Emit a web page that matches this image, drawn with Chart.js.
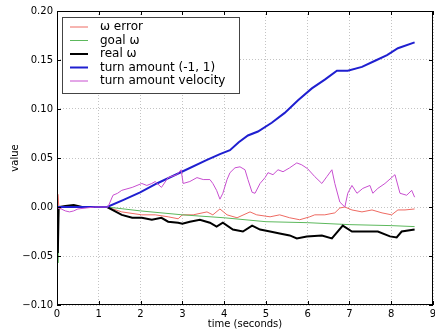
<!DOCTYPE html>
<html>
<head>
<meta charset="utf-8">
<script src="https://cdn.jsdelivr.net/npm/chart.js@4"></script>
<style>
  body { margin: 0; background: #fff; }
  #chart { display: block; }
</style>
</head>
<body>
<canvas id="chart" width="435" height="335"></canvas>
<script>
// values (time in seconds)
const errorTime = [0, 0.02, 0.05, 0.2, 0.5, 1.0, 1.2, 1.55, 2.03, 2.35, 2.66, 2.9, 3.0, 3.26, 3.59, 3.73, 3.9, 4.07, 4.31, 4.62, 4.78, 5.1, 5.33, 5.57, 5.81, 6.05, 6.17, 6.41, 6.65, 6.77, 6.89, 7.06, 7.3, 7.54, 7.78, 8.01, 8.16, 8.33, 8.56]
const errorVals = [0, 0.013, -0.002, 0.001, 0, 0, 0, -0.005, -0.008, -0.008, -0.010, -0.012, -0.008, -0.008, -0.005, -0.008, -0.002, -0.008, -0.011, -0.005, -0.008, -0.010, -0.008, -0.011, -0.013, -0.010, -0.008, -0.008, -0.006, -0.001, 0.0, -0.003, -0.005, -0.003, -0.006, -0.008, -0.003, -0.003, -0.002]

const goalTime = [0, 0.02, 0.04, 1.2, 2.0, 3.0, 4.0, 5.0, 6.0, 7.0, 8.0, 8.56]
const goalVals = [0, -0.057, 0, 0, -0.004, -0.008, -0.011, -0.015, -0.016, -0.018, -0.019, -0.020]

const realTime = [0, 0.02, 0.04, 0.2, 0.4, 0.6, 1.2, 1.55, 1.8, 2.03, 2.27, 2.5, 2.66, 2.9, 3.0, 3.18, 3.42, 3.66, 3.82, 3.97, 4.21, 4.45, 4.67, 4.86, 5.1, 5.33, 5.57, 5.74, 5.98, 6.34, 6.58, 6.84, 7.06, 7.37, 7.68, 7.97, 8.13, 8.25, 8.56]
const realVals = [0, -0.047, 0, 0.001, 0.002, 0, 0, -0.008, -0.011, -0.011, -0.013, -0.011, -0.015, -0.016, -0.017, -0.015, -0.013, -0.016, -0.020, -0.016, -0.023, -0.025, -0.019, -0.023, -0.025, -0.027, -0.029, -0.032, -0.030, -0.029, -0.032, -0.019, -0.025, -0.025, -0.025, -0.030, -0.031, -0.025, -0.023]

const turnTime = [0, 0.5, 1.0, 1.2, 1.58, 1.99, 2.39, 2.99, 3.59, 3.9, 4.14, 4.35, 4.57, 4.81, 5.14, 5.45, 5.77, 6.1, 6.41, 6.7, 6.96, 7.3, 7.6, 7.9, 8.16, 8.56]
const turnVals = [0, 0, 0, 0, 0.007, 0.015, 0.024, 0.036, 0.048, 0.054, 0.058, 0.066, 0.073, 0.077, 0.086, 0.096, 0.109, 0.121, 0.130, 0.139, 0.139, 0.143, 0.149, 0.155, 0.162, 0.168]

const velTime = [0, 0.1, 0.2, 0.3, 0.4, 0.5, 0.7, 0.9, 1.1, 1.22, 1.34, 1.45, 1.55, 1.8, 2.03, 2.15, 2.27, 2.35, 2.5, 2.66, 2.87, 2.97, 3.02, 3.18, 3.35, 3.5, 3.66, 3.73, 3.82, 3.9, 3.97, 4.07, 4.14, 4.26, 4.38, 4.5, 4.57, 4.67, 4.74, 4.86, 4.98, 5.05, 5.17, 5.29, 5.41, 5.57, 5.74, 5.86, 6.0, 6.17, 6.34, 6.46, 6.58, 6.65, 6.77, 6.89, 6.96, 7.06, 7.18, 7.32, 7.49, 7.56, 7.68, 7.85, 8.09, 8.21, 8.37, 8.49, 8.56]
const velVals = [-0.001, -0.002, -0.004, -0.005, -0.004, -0.002, -0.001, 0, 0, 0, 0.012, 0.014, 0.017, 0.020, 0.024, 0.022, 0.024, 0.026, 0.020, 0.030, 0.033, 0.038, 0.024, 0.026, 0.030, 0.028, 0.028, 0.024, 0.017, 0.008, 0.014, 0.028, 0.035, 0.040, 0.041, 0.038, 0.028, 0.015, 0.014, 0.024, 0.030, 0.035, 0.033, 0.038, 0.036, 0.040, 0.045, 0.043, 0.039, 0.031, 0.024, 0.031, 0.038, 0.024, 0.005, 0.0, 0.014, 0.022, 0.014, 0.019, 0.022, 0.014, 0.019, 0.024, 0.033, 0.014, 0.012, 0.017, 0.010]

const labels = ['\u03c9 error', 'goal \u03c9', 'real \u03c9', 'turn amount (-1, 1)', 'turn amount velocity']
const colors = ['#ee6a62', '#5cb85c', '#000000', '#1f1fd0', '#c84fd0']
const widths = [1, 1, 2, 2, 1]

const pts = (ts, vs) => ts.map((t, i) => ({ x: t, y: vs[i] }))
const series = [
  pts(errorTime, errorVals),
  pts(goalTime, goalVals),
  pts(realTime, realVals),
  pts(turnTime, turnVals),
  pts(velTime, velVals)
]

const FONT = 'DejaVu Sans'

// matplotlib style frame, inward ticks and legend box
const framePlugin = {
  id: 'frame',
  afterDraw(chart) {
    const { ctx, chartArea: a, scales } = chart
    ctx.save()
    ctx.strokeStyle = '#000'
    ctx.lineWidth = 1
    ctx.strokeRect(a.left + 0.5, a.top + 0.5, a.right - a.left - 1, a.bottom - a.top - 1)
    ctx.beginPath()
    scales.x.ticks.forEach(t => {
      const px = Math.round(scales.x.getPixelForValue(t.value)) + 0.5
      ctx.moveTo(px, a.bottom); ctx.lineTo(px, a.bottom - 4)
      ctx.moveTo(px, a.top); ctx.lineTo(px, a.top + 4)
    })
    scales.y.ticks.forEach(t => {
      const py = Math.round(scales.y.getPixelForValue(t.value)) + 0.5
      ctx.moveTo(a.left, py); ctx.lineTo(a.left + 4, py)
      ctx.moveTo(a.right, py); ctx.lineTo(a.right - 4, py)
    })
    ctx.stroke()

    // legend
    const bx = 62, by = 17, bw = 177, bh = 76
    ctx.fillStyle = '#fff'
    ctx.fillRect(bx, by, bw, bh)
    ctx.strokeStyle = '#444'
    ctx.strokeRect(bx + 0.5, by + 0.5, bw, bh)
    ctx.font = '12px ' + FONT
    ctx.textBaseline = 'middle'
    chart.data.datasets.forEach((ds, i) => {
      const y = 27 + i * 13.5
      ctx.strokeStyle = ds.borderColor
      ctx.lineWidth = ds.borderWidth
      ctx.beginPath()
      ctx.moveTo(70, y); ctx.lineTo(88, y)
      ctx.stroke()
      ctx.fillStyle = '#000'
      ctx.fillText(ds.label, 100, y)
    })
    ctx.restore()
  }
}

const fmt = v => {
  const s = Math.abs(v).toFixed(2)
  return v < -1e-9 ? '\u2212' + s : s
}

const config = {
  type: 'line',
  data: {
    datasets: series.map((d, i) => ({
      label: labels[i],
      data: d,
      borderColor: colors[i],
      backgroundColor: colors[i],
      borderWidth: widths[i],
      pointRadius: 0,
      tension: 0,
      order: 5 - i
    }))
  },
  options: {
    responsive: false,
    animation: false,
    devicePixelRatio: 1,
    layout: { padding: { left: 0, top: 11, right: 2, bottom: 0 } },
    plugins: {
      legend: { display: false },
      tooltip: { enabled: false }
    },
    scales: {
      x: {
        type: 'linear',
        min: 0,
        max: 9,
        ticks: { stepSize: 1, color: '#000', padding: 3, font: { family: FONT, size: 10 } },
        grid: { color: '#c4c4c4', drawTicks: false },
        border: { display: false, dash: [1, 2] },
        title: { display: true, text: 'time (seconds)', color: '#000', font: { family: FONT, size: 10 }, padding: { top: 0, bottom: 5 } },
        afterFit: s => { s.height = 30; s.paddingRight = 0; s.paddingLeft = 0 }
      },
      y: {
        min: -0.1,
        max: 0.2,
        ticks: { stepSize: 0.05, color: '#000', padding: 4, font: { family: FONT, size: 10 }, callback: v => fmt(v) },
        grid: { color: '#c4c4c4', drawTicks: false },
        border: { display: false, dash: [1, 2] },
        title: { display: true, text: 'value', color: '#000', font: { family: FONT, size: 10 }, padding: { top: 9, bottom: 0 } },
        afterFit: s => { s.width = 57; s.paddingTop = 0; s.paddingBottom = 0 }
      }
    }
  },
  plugins: [framePlugin]
}

new Chart(document.getElementById('chart').getContext('2d'), config)
</script>
</body>
</html>
